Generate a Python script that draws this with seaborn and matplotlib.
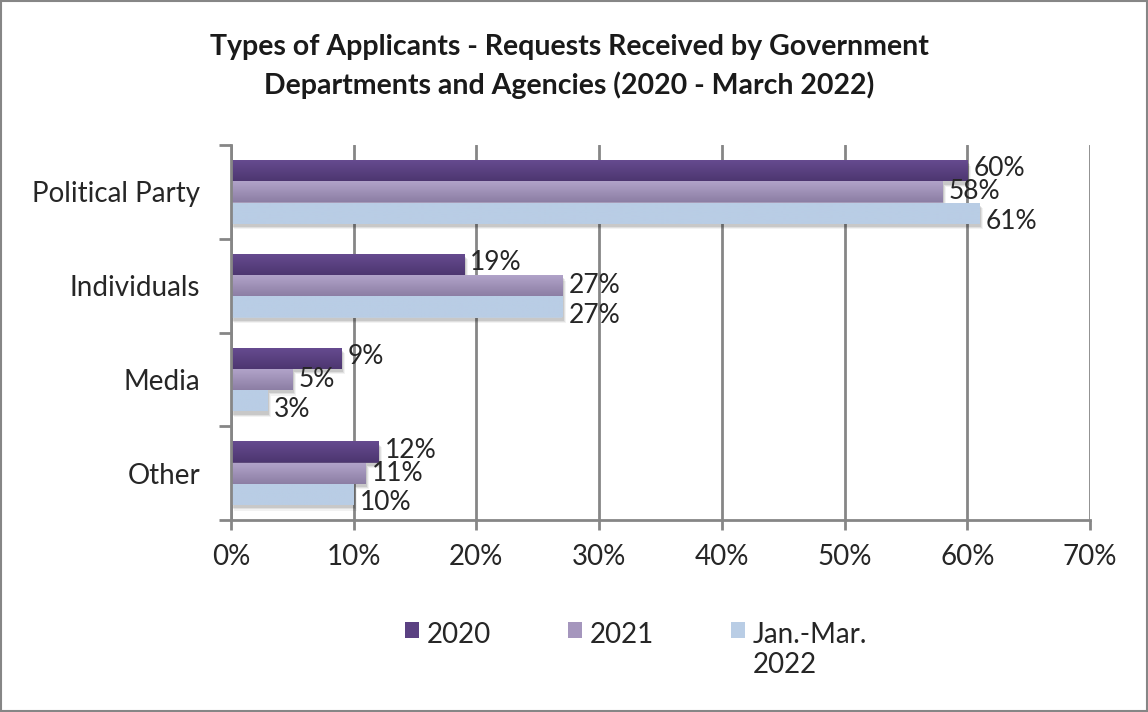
import numpy as np
import pandas as pd
import matplotlib
matplotlib.use("Agg")
import matplotlib.pyplot as plt
from matplotlib.patches import Rectangle
from matplotlib.ticker import FixedLocator, PercentFormatter
import seaborn as sns

# Requests received, share by type of applicant (%)
categories = ["Political Party", "Individuals", "Media", "Other"]
series = ["2020", "2021", "Jan.-Mar.\n2022"]
share_2020 = [60, 19, 9, 12]
share_2021 = [58, 27, 5, 11]
share_2022 = [61, 27, 3, 10]
x_ticks = [0, 10, 20, 30, 40, 50, 60, 70]

df = pd.DataFrame({
    "category": categories * 3,
    "series": [series[0]] * 4 + [series[1]] * 4 + [series[2]] * 4,
    "value": share_2020 + share_2021 + share_2022,
})

# base colour, gradient top colour, gradient bottom colour
colors = {
    series[0]: ("#5b4182", "#674c91", "#4d3670"),
    series[1]: ("#a596bd", "#b3a5cb", "#8c7ea4"),
    series[2]: ("#b9cde5", "#b9cde5", "#b9cde5"),
}

sns.set_theme(style="white")
plt.rcParams["font.family"] = ["Lato", "DejaVu Sans"]

fig = plt.figure(figsize=(11.48, 7.12), dpi=100)
ax = fig.add_axes([231 / 1148, 1 - 520 / 712, (1090 - 231) / 1148, (520 - 145) / 712])

sns.barplot(data=df, y="category", x="value", hue="series", orient="h",
            order=categories, hue_order=series,
            palette={k: v[0] for k, v in colors.items()},
            width=0.68, gap=0, dodge=True, legend=False, ax=ax,
            edgecolor="none", linewidth=0, err_kws={"linewidth": 0})

ax.set_xlim(0, 70)
ax.set_ylim(3.5, -0.5)

# Gradient fill and soft shadow for every bar
bars = [p for p in ax.patches if isinstance(p, Rectangle) and p.get_height() != 0]
n = len(categories)
for i, p in enumerate(bars):
    s = series[i // n]
    top_c, bot_c = colors[s][1], colors[s][2]
    x0, y0 = p.get_x(), p.get_y()
    w, h = p.get_width(), p.get_height()
    grad = np.linspace(0, 1, 64)[:, None, None]
    c1 = np.array(matplotlib.colors.to_rgb(top_c))
    c2 = np.array(matplotlib.colors.to_rgb(bot_c))
    img = c1 * (1 - grad) + c2 * grad
    # shadow drawn as offset translucent rectangles
    for k, a in zip(range(3), [0.10, 0.08, 0.05]):
        sh = Rectangle((x0 + 0.12 + 0.08 * k, y0 + 0.035 + 0.012 * k), w, h,
                       facecolor="black", alpha=a, edgecolor="none", zorder=1.5)
        ax.add_patch(sh)
    im = ax.imshow(img, extent=(x0, x0 + w, y0 + h, y0), aspect="auto",
                   zorder=2.5, interpolation="bilinear")
    im.set_clip_path(p)
    p.set_zorder(2)

ax.set_xlim(0, 70)
ax.set_ylim(3.5, -0.5)

# Value labels
label_dy = {series[0]: -0.02, series[1]: 0.0, series[2]: 0.09}
for j, (s, vals) in enumerate(zip(series, [share_2020, share_2021, share_2022])):
    for i, v in enumerate(vals):
        yc = i + (j - 1) * 0.68 / 3 + label_dy[s]
        ax.text(v + 0.5, yc, f"{v}%", ha="left", va="center",
                fontsize=19, color="#262626", zorder=4)

# Axes styling
ax.xaxis.set_major_locator(FixedLocator(x_ticks))
ax.xaxis.set_major_formatter(PercentFormatter(decimals=0))
ax.grid(axis="x", color="#868686", linewidth=2, zorder=0)
ax.set_axisbelow(True)
for side in ["top", "right"]:
    ax.spines[side].set_visible(False)
for side in ["left", "bottom"]:
    ax.spines[side].set_color("#868686")
    ax.spines[side].set_linewidth(2)
ax.set_yticks(range(n))
ax.set_yticks(np.arange(-0.5, n, 1.0), minor=True)
ax.tick_params(axis="y", which="major", length=0, pad=22, labelsize=20,
               labelcolor="#262626")
ax.tick_params(axis="y", which="minor", length=9, width=2, color="#868686",
               left=True)
ax.tick_params(axis="x", which="major", length=7, width=2, color="#868686",
               bottom=True, pad=10, labelsize=20, labelcolor="#262626")
ax.set_xlabel("")
ax.set_ylabel("")

# Title
fig.text(0.496, 1 - 47 / 712, "Types of Applicants - Requests Received by Government",
         ha="center", va="center", fontsize=20.5, fontweight="bold", color="#1a1a1a")
fig.text(0.496, 1 - 85 / 712, "Departments and Agencies (2020 - March 2022)",
         ha="center", va="center", fontsize=20.5, fontweight="bold", color="#1a1a1a")

# Legend
handles = [Rectangle((0, 0), 1, 1, facecolor=colors[s][0], edgecolor="none") for s in series]
leg = fig.legend(handles, series, loc="upper left",
                 bbox_to_anchor=(405 / 1148, 1 - 622 / 712),
                 ncol=3, frameon=False, fontsize=20, handlelength=0.5, handleheight=0.5,
                 handletextpad=0.3, columnspacing=2.75, labelcolor="#262626",
                 borderpad=0, borderaxespad=0)
# line up columns at the top and keep each marker beside the first label line
leg._legend_handle_box.align = "top"
for col in leg._legend_handle_box.get_children():
    col.align = "left"
    for row in col.get_children():
        row.align = "top"

# Outer chart border
fig.patches.append(Rectangle((0.001, 0.001), 0.998, 0.997, transform=fig.transFigure,
                             fill=False, edgecolor="#868686", linewidth=1.5))

fig.savefig("out.png", dpi=100, facecolor="white")
